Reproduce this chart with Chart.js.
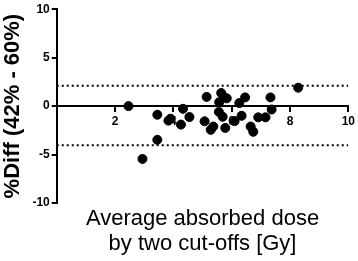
<!DOCTYPE html>
<html>
<head>
<meta charset="utf-8">
<script src="https://cdn.jsdelivr.net/npm/chart.js@4"></script>
<style>
  html, body { margin: 0; padding: 0; background: #fff; }
  #wrap { width: 358px; height: 261px; }
</style>
</head>
<body>
<div id="wrap"><canvas id="myChart"></canvas></div>
<script>
const doseAvg = [2.46, 2.94, 3.45, 3.45, 3.83, 3.9, 4.26, 4.33, 4.55, 5.07,
  5.14, 5.28, 5.37, 5.56, 5.57, 5.64, 5.69, 5.73, 5.78, 5.83,
  6.1, 6.26, 6.34, 6.46, 6.65, 6.74, 6.91, 7.16, 7.33, 7.37, 8.28];
const pctDiff = [0, -5.45, -0.89, -3.48, -1.5, -1.3, -1.91, -0.28, -1.13, -1.57,
  0.95, -2.45, -2.11, -0.6, 0.4, 1.35, -1.1, 0.95, -2.25, 0.8,
  -1.55, 0.31, -1.0, 0.9, -2.11, -2.65, -1.16, -1.16, 0.9, -0.35, 1.9];
const upperLimit = 2.1;
const lowerLimit = -4.05;
const xTicks = [0, 2, 4, 6, 8, 10];
const yTicks = [-10, -5, 0, 5, 10];
const xTitle = ["Average absorbed dose", "by two cut-offs [Gy]"];

const font = "'Liberation Sans', Arial, sans-serif";
const points = doseAvg.map((d, i) => ({x: d, y: pctDiff[i]}));

// x title sits under the plot, centred on the plot area (axis itself is at y=0)
const bottomTitle = {
  id: "bottomTitle",
  afterDraw(chart) {
    const {ctx, chartArea} = chart;
    const cx = (chartArea.left + chartArea.right) / 2;
    ctx.save();
    ctx.fillStyle = "#000";
    ctx.font = "22px " + font;
    ctx.textAlign = "center";
    ctx.textBaseline = "middle";
    xTitle.forEach((line, i) => ctx.fillText(line, cx, chartArea.bottom + 16 + i * 25));
    ctx.restore();
  }
};

new Chart("myChart", {
  type: "scatter",
  data: {
    datasets: [{
      data: points,
      backgroundColor: "#000",
      borderColor: "#000",
      pointRadius: 4.5,
      pointHoverRadius: 4.5
    }, {
      type: "line",
      data: [{x: 0, y: upperLimit}, {x: 10, y: upperLimit}],
      borderColor: "#000",
      borderWidth: 2,
      borderDash: [2, 3],
      pointRadius: 0,
      fill: false
    }, {
      type: "line",
      data: [{x: 0, y: lowerLimit}, {x: 10, y: lowerLimit}],
      borderColor: "#000",
      borderWidth: 2,
      borderDash: [2, 3],
      pointRadius: 0,
      fill: false
    }]
  },
  options: {
    responsive: true,
    maintainAspectRatio: false,
    animation: false,
    layout: {padding: {top: 1, right: 9, bottom: 58, left: 0}},
    plugins: {
      legend: {display: false},
      tooltip: {enabled: false}
    },
    scales: {
      x: {
        type: "linear",
        position: {y: 0},
        min: 0,
        max: 10,
        afterBuildTicks: scale => { scale.ticks = xTicks.map(v => ({value: v})); },
        ticks: {
          color: "#000",
          font: {family: font, size: 12, weight: "bold"},
          padding: 3,
          maxRotation: 0,
          callback: v => v === 0 ? "" : v
        },
        grid: {drawOnChartArea: false, drawTicks: true, tickLength: 5, color: "#000", lineWidth: 2},
        border: {display: true, color: "#000", width: 2}
      },
      y: {
        min: -10,
        max: 10,
        afterBuildTicks: scale => { scale.ticks = yTicks.map(v => ({value: v})); },
        ticks: {
          color: "#000",
          font: {family: font, size: 12, weight: "bold"},
          padding: 2
        },
        grid: {drawOnChartArea: false, drawTicks: true, tickLength: 5, color: "#000", lineWidth: 2},
        border: {display: true, color: "#000", width: 2},
        title: {
          display: true,
          text: "%Diff (42% - 60%)",
          color: "#000",
          font: {family: font, size: 22, weight: "bold"},
          padding: {top: 0, bottom: 4}
        }
      }
    }
  },
  plugins: [bottomTitle]
});
</script>
</body>
</html>
